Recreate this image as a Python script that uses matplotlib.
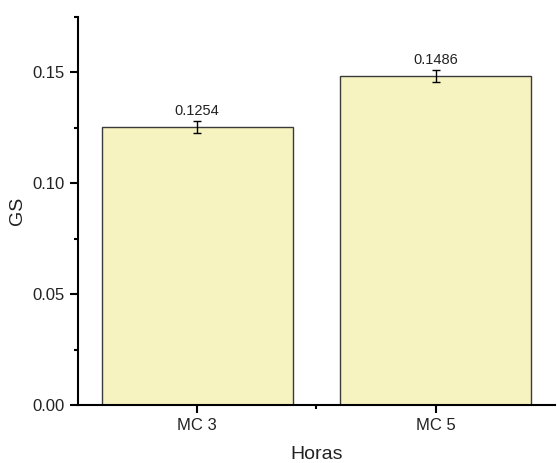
import matplotlib
matplotlib.use("Agg")
from matplotlib import pyplot as plt
from matplotlib.ticker import MultipleLocator, FixedLocator

categories = ["MC 3", "MC 5"]
gs_values = [0.1254, 0.1486]
gs_errors = [0.0027, 0.0027]
value_labels = ["0.1254", "0.1486"]

plt.rcParams['font.family'] = ['Liberation Sans', 'DejaVu Sans']

fig = plt.figure(figsize=(5.57, 4.63), dpi=100)
ax = fig.add_axes([0.140, 0.1253, 0.856, 0.838])

pos = list(range(len(categories)))
ax.bar(pos, gs_values, width=0.8, color="#f7f3c0", edgecolor="#3a3a3a", linewidth=1.0, zorder=2)
ax.errorbar(pos, gs_values, yerr=gs_errors, fmt="none", ecolor="black",
            elinewidth=1.0, capsize=3, capthick=1.0, zorder=3)
for x, v, e, t in zip(pos, gs_values, gs_errors, value_labels):
    ax.text(x, v + e + 0.0012, t, ha="center", va="bottom", fontsize=10.5, color="#222222")

ax.set_xlim(-0.5, 1.5)
ax.set_ylim(0, 0.175)
ax.set_xticks(pos)
ax.set_xticklabels(categories)
ax.xaxis.set_minor_locator(FixedLocator([0.5]))
ax.yaxis.set_major_locator(MultipleLocator(0.05))
ax.yaxis.set_minor_locator(MultipleLocator(0.025))
ax.yaxis.set_major_formatter(plt.FuncFormatter(lambda v, p: "%.2f" % v))

ax.spines['top'].set_visible(False)
ax.spines['right'].set_visible(False)
for s in ['left', 'bottom']:
    ax.spines[s].set_linewidth(1.5)
ax.tick_params(which='major', direction='out', length=6, width=1.5, labelsize=12,
               labelcolor="#222222")
ax.tick_params(which='minor', direction='out', length=3, width=1.5)

ax.set_xlabel("Horas", fontsize=14, labelpad=9, color="#222222")
ax.set_ylabel("GS", fontsize=14, labelpad=5, color="#222222")

fig.savefig("out.png", dpi=100)
